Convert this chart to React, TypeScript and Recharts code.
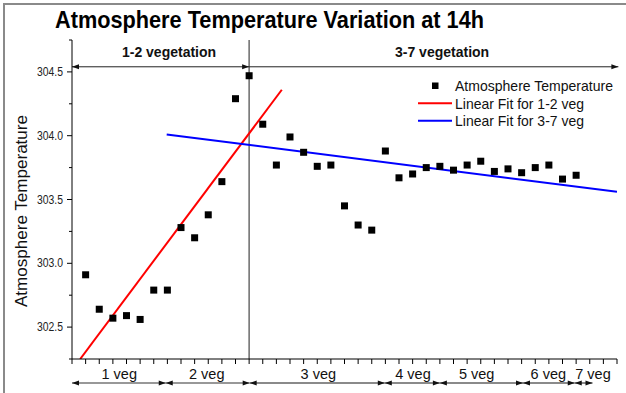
import React from 'react';
import { ComposedChart, Scatter, Line, XAxis, YAxis, ReferenceLine, Legend } from 'recharts';

// ---- data ----
const xIndex = [1, 2, 3, 4, 5, 6, 7, 8, 9, 10, 11, 12, 13, 14, 15, 16, 17, 18, 19, 20, 21, 22, 23, 24, 25, 26, 27, 28, 29, 30, 31, 32, 33, 34, 35, 36, 37];
const temperature = [
  302.91, 302.64, 302.57, 302.59, 302.56, 302.79, 302.79, 303.28, 303.20, 303.38, 303.64, 304.29, 304.47,
  304.09, 303.77, 303.99, 303.87, 303.76, 303.77, 303.45, 303.30, 303.26, 303.88, 303.67, 303.70, 303.75,
  303.76, 303.73, 303.77, 303.80, 303.72, 303.74, 303.71, 303.75, 303.77, 303.66, 303.69,
];
const fit12X = [0.6, 15.4];
const fit12Y = [302.25, 304.36];
const fit37X = [6.95, 40];
const fit37Y = [304.01, 303.56];

const periodNames = ['1-2 vegetation', '3-7 vegetation'];
const periodBounds = [0, 13, 40.1];
const periodLabelAt = [7.12, 27.16];
const periodArrowY = 304.54;

const vegNames = ['1 veg', '2 veg', '3 veg', '4 veg', '5 veg', '6 veg', '7 veg'];
const vegBounds = [0, 6.88, 13.04, 22.96, 27, 33.1, 36.9, 38.2];
const vegLabelAt = [3.47, 9.89, 18.08, 25.03, 29.7, 34.96, 38.24];
const vegArrowY = 302.062;

const yTicks = [302.25, 302.5, 302.75, 303, 303.25, 303.5, 303.75, 304, 304.25, 304.5, 304.75];
const xTicks = [0, 1, 2, 3, 4, 5, 6, 7, 8, 9, 10, 11, 12, 13, 14, 15, 16, 17, 18, 19, 20, 21, 22, 23, 24, 25, 26, 27, 28, 29, 30, 31, 32, 33, 34, 35, 36, 37, 38, 39, 40];
const dividerX = 13;

const points = xIndex.map((x, i) => ({ x, y: temperature[i] }));
const fit12 = fit12X.map((x, i) => ({ x, y: fit12Y[i] }));
const fit37 = fit37X.map((x, i) => ({ x, y: fit37Y[i] }));

const FONT = "'Liberation Sans', Arial, sans-serif";

const YTick = (props: any) => {
  const { x, y, payload } = props;
  const v = payload.value as number;
  const major = Math.abs(v * 2 - Math.round(v * 2)) < 1e-6;
  const axisX = x + 4 + 5;
  return (
    <g>
      <line x1={axisX - (major ? 5 : 3)} x2={axisX} y1={y} y2={y} stroke="#000" strokeWidth={1} />
      {major && (
        <text x={x} y={y} textAnchor="end" dominantBaseline="central" fontSize={12.5} fill="#222" fontFamily={FONT} textLength={26} lengthAdjust="spacingAndGlyphs">
          {v.toFixed(1)}
        </text>
      )}
    </g>
  );
};

const XTick = (props: any) => {
  const { x, y } = props;
  const axisY = y - 2 - 5;
  return <line x1={x} x2={x} y1={axisY} y2={axisY + 5} stroke="#000" strokeWidth={1} />;
};

const Square = (p: any) => <rect x={p.cx - 3.5} y={p.cy - 3.5} width={7} height={7} fill="#000" />;

type ArrowOpts = {
  label: string;
  labelAt: number;
  from: number;
  to: number;
  lineColor: string;
  lineWidth: number;
  headLeft: boolean;
  headRight: boolean;
  labelDy: number;
  bold: boolean;
  fontSize: number;
};

const makeArrowShape = (o: ArrowOpts) => (p: any) => {
  const { x1, y1, x2 } = p;
  const y = y1;
  const lx = x1 + ((o.labelAt - o.from) / (o.to - o.from)) * (x2 - x1);
  return (
    <g>
      <line x1={x1} x2={x2} y1={y} y2={y} stroke={o.lineColor} strokeWidth={o.lineWidth} />
      {o.headLeft && <polygon points={`${x1},${y} ${x1 + 7},${y - 2.5} ${x1 + 7},${y + 2.5}`} fill="#111" />}
      {o.headRight && <polygon points={`${x2},${y} ${x2 - 7},${y - 2.5} ${x2 - 7},${y + 2.5}`} fill="#111" />}
      <text x={lx} y={y + o.labelDy} textAnchor="middle" fontSize={o.fontSize} fontWeight={o.bold ? 'bold' : 'normal'} fill="#111" fontFamily={FONT}>
        {o.label}
      </text>
    </g>
  );
};

const LegendContent = () => (
  <svg width={220} height={60} style={{ display: 'block' }}>
    <rect x={22} y={10.5} width={6.5} height={6.5} fill="#000" />
    <line x1={8} x2={42} y1={31.3} y2={31.3} stroke="#ff0000" strokeWidth={2} />
    <line x1={8} x2={42} y1={48.7} y2={48.7} stroke="#0000ff" strokeWidth={2} />
    <text x={45} y={14} dominantBaseline="central" fontSize={14.5} fill="#111" fontFamily={FONT} textLength={158} lengthAdjust="spacingAndGlyphs">Atmosphere Temperature</text>
    <text x={45} y={31.5} dominantBaseline="central" fontSize={14.5} fill="#111" fontFamily={FONT} textLength={129} lengthAdjust="spacingAndGlyphs">Linear Fit for 1-2 veg</text>
    <text x={45} y={49} dominantBaseline="central" fontSize={14.5} fill="#111" fontFamily={FONT} textLength={129} lengthAdjust="spacingAndGlyphs">Linear Fit for 3-7 veg</text>
  </svg>
);

export default function App() {
  return (
    <div style={{ position: 'absolute', left: 0, top: 0, width: 626, height: 393, background: '#fff', overflow: 'hidden' }}>
      <div style={{ position: 'absolute', left: 3, top: 2.5, right: -4, bottom: -4, borderTop: '2px solid #8a8a8a', borderLeft: '2px solid #8a8a8a' }} />
      <div style={{ position: 'absolute', left: 0, top: 0 }}>
        <ComposedChart width={626} height={393} margin={{ top: 40, right: 9, bottom: 0, left: 0 }}>
          <XAxis
            type="number"
            dataKey="x"
            domain={[0, 40]}
            ticks={xTicks}
            interval={0}
            tick={<XTick />}
            tickLine={false}
            tickSize={5}
            tickMargin={2}
            height={34}
            axisLine={{ stroke: '#000', strokeWidth: 1 }}
            allowDataOverflow
          />
          <YAxis
            type="number"
            domain={[302.25, 304.75]}
            ticks={yTicks}
            interval={0}
            tick={<YTick />}
            tickLine={false}
            tickSize={5}
            tickMargin={4}
            width={72}
            axisLine={{ stroke: '#000', strokeWidth: 1 }}
            allowDataOverflow
          />
          <ReferenceLine x={dividerX} stroke="#6a6a6a" strokeWidth={1.5} />
          {periodNames.map((name, i) => (
            <ReferenceLine
              key={name}
              ifOverflow="visible"
              segment={[{ x: periodBounds[i], y: periodArrowY }, { x: periodBounds[i + 1], y: periodArrowY }]}
              shape={makeArrowShape({
                label: name,
                labelAt: periodLabelAt[i],
                from: periodBounds[i],
                to: periodBounds[i + 1],
                lineColor: '#222',
                lineWidth: 1,
                headLeft: i === 0,
                headRight: true,
                labelDy: -9.5,
                bold: true,
                fontSize: 14,
              })}
            />
          ))}
          {vegNames.map((name, i) => (
            <ReferenceLine
              key={name}
              ifOverflow="visible"
              segment={[{ x: vegBounds[i], y: vegArrowY }, { x: vegBounds[i + 1], y: vegArrowY }]}
              shape={makeArrowShape({
                label: name,
                labelAt: vegLabelAt[i],
                from: vegBounds[i],
                to: vegBounds[i + 1],
                lineColor: i < 2 ? '#333' : '#8a8a8a',
                lineWidth: i < 2 ? 1.2 : 2,
                headLeft: true,
                headRight: true,
                labelDy: -4,
                bold: false,
                fontSize: 14.5,
              })}
            />
          ))}
          <Line data={fit12} dataKey="y" type="linear" stroke="#ff0000" strokeWidth={2} dot={false} activeDot={false} isAnimationActive={false} legendType="none" />
          <Line data={fit37} dataKey="y" type="linear" stroke="#0000ff" strokeWidth={2} dot={false} activeDot={false} isAnimationActive={false} legendType="none" />
          <Scatter data={points} dataKey="y" shape={<Square />} isAnimationActive={false} />
          <Legend
            layout="horizontal"
            verticalAlign="middle"
            align="center"
            content={<LegendContent />}
            wrapperStyle={{ position: 'absolute', left: 410, top: 72, width: 220, height: 60 }}
          />
        </ComposedChart>
      </div>
      <svg width={626} height={393} style={{ position: 'absolute', left: 0, top: 0, pointerEvents: 'none' }}>
        <text x={55} y={28} fontSize={24} fontWeight="bold" fill="#000" fontFamily={FONT} textLength={429} lengthAdjust="spacingAndGlyphs">
          Atmosphere Temperature Variation at 14h
        </text>
        <text transform="translate(21,211) rotate(-90)" textAnchor="middle" dominantBaseline="central" fontSize={17} fill="#111" fontFamily={FONT} textLength={192} lengthAdjust="spacingAndGlyphs">
          Atmosphere Temperature
        </text>
      </svg>
    </div>
  );
}
